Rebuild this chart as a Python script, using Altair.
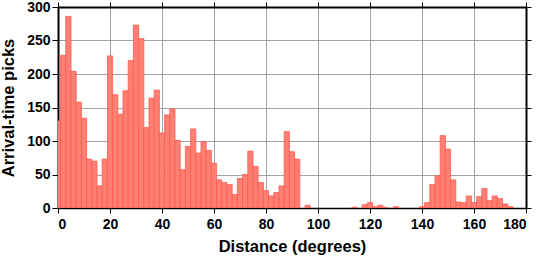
import altair as alt
import pandas as pd

centers = list(range(0, 182, 2))
counts = [130, 228, 286, 204, 158, 134, 73, 70, 33, 73,
          227, 169, 140, 175, 220, 273, 253, 120, 164, 176,
          112, 139, 148, 101, 57, 92, 118, 82, 99, 86,
          67, 42, 38, 35, 20, 44, 50, 85, 62, 38,
          26, 18, 23, 33, 114, 84, 73, 0, 4, 0,
          0, 0, 0, 0, 0, 0, 0, 1, 0, 5,
          8, 2, 4, 1, 0, 2, 0, 0, 0, 0,
          2, 8, 35, 48, 108, 88, 42, 9, 8, 18,
          8, 17, 29, 11, 18, 14, 6, 2, 0, 0, 0]

df = pd.DataFrame({"center": centers, "count": counts})
df["lo"] = df["center"] - 1
df["hi"] = df["center"] + 1

FONT = "Liberation Sans"
xs = alt.Scale(domain=[0, 180], nice=False, zero=False)
ys = alt.Scale(domain=[0, 300], nice=False)

bars = alt.Chart(df).transform_filter("datum.count > 0").mark_bar(
    fill="#ff7f73", stroke="#ff5a4f", strokeWidth=0.8, clip=True
).encode(
    x=alt.X("lo:Q", scale=xs, axis=alt.Axis(
        title="Distance (degrees)", values=list(range(0, 181, 20)),
        grid=True, gridColor="#8a8a8a", gridWidth=0.8,
        tickSize=5, tickColor="#000", domainColor="#000", domainWidth=1.5,
        labelFont=FONT, labelFontSize=14, labelFontWeight="bold", labelColor="#000",
        labelPadding=4, titleFont=FONT, titleFontSize=16.5, titleFontWeight="bold",
        titleColor="#000", titlePadding=7)),
    x2="hi:Q",
    y=alt.Y("count:Q", scale=ys, axis=alt.Axis(
        title="Arrival-time picks", values=list(range(0, 301, 50)),
        grid=True, gridColor="#8a8a8a", gridWidth=0.8,
        tickSize=6, tickColor="#000", domainColor="#000", domainWidth=2,
        labelFont=FONT, labelFontSize=14, labelFontWeight="bold", labelColor="#000",
        labelPadding=2, titleFont=FONT, titleFontSize=16.5, titleFontWeight="bold",
        titleColor="#000", titlePadding=10)),
    y2=alt.datum(0),
)

frame = alt.Chart(df).mark_point(opacity=0).encode(
    x=alt.X("center:Q", scale=xs, axis=alt.Axis(
        orient="top", title=None, labels=False, grid=False,
        values=list(range(0, 181, 20)), tickSize=5, tickColor="#000",
        domainColor="#000", domainWidth=2)),
    y=alt.Y("count:Q", scale=ys, axis=alt.Axis(
        orient="right", title=None, labels=False, grid=False,
        values=list(range(0, 301, 50)), tickSize=5, tickColor="#000",
        domainColor="#000", domainWidth=2)),
)

chart = alt.layer(bars, frame).resolve_axis(
    x="independent", y="independent"
).properties(
    width=468, height=201,
    autosize=alt.AutoSizeParams(type="none"),
    padding={"left": 58, "top": 7, "right": 13, "bottom": 50},
    background="white",
).configure_view(stroke=None)

chart.save("out.html", embed_options={"renderer": "svg", "actions": False})
